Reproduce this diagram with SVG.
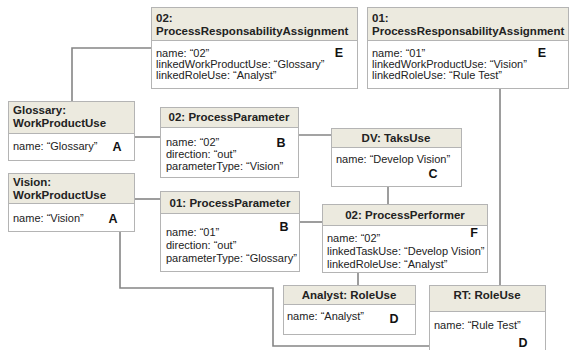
<svg xmlns="http://www.w3.org/2000/svg" width="570" height="350" viewBox="0 0 570 350">
<style>
.box{fill:#ffffff;stroke:#b4b4b4;stroke-width:1}
.hdr{fill:#eceadf;stroke:#b4b4b4;stroke-width:1}
.t{font-family:"Liberation Sans",Arial,sans-serif;font-size:11px;fill:#222}
.h{font-family:"Liberation Sans",Arial,sans-serif;font-size:11.5px;font-weight:bold;fill:#222}
.hc{text-anchor:middle}
.l{font-family:"Liberation Sans",Arial,sans-serif;font-size:12.5px;font-weight:bold;fill:#111;text-anchor:middle}
.c{fill:none;stroke:#858585;stroke-width:1.6}
</style>
<rect width="570" height="350" fill="#ffffff"/>
<g id="connectors">
<polyline class="c" points="72,101 72,48 151,48"/>
<line class="c" x1="134" y1="137" x2="160" y2="137"/>
<line class="c" x1="298" y1="135" x2="331" y2="135"/>
<line class="c" x1="500" y1="88" x2="500" y2="285"/>
<line class="c" x1="134" y1="199" x2="160" y2="199"/>
<polyline class="c" points="120,231 120,288 273,288 273,346 429,346"/>
<line class="c" x1="388" y1="186" x2="388" y2="204"/>
<line class="c" x1="299" y1="222" x2="322" y2="222"/>
<line class="c" x1="358" y1="272" x2="358" y2="285"/>
</g>
<g id="e1">
<rect class="box" x="151.5" y="7.5" width="206" height="81"/>
<rect class="hdr" x="151.5" y="7.5" width="206" height="33"/>
<text class="h" x="156" y="22">02:</text>
<text class="h" x="156" y="35">ProcessResponsabilityAssignment</text>
<text class="t" x="156" y="57">name: “02”</text>
<text class="t" x="156" y="68">linkedWorkProductUse: “Glossary”</text>
<text class="t" x="156" y="79">linkedRoleUse: “Analyst”</text>
<text class="l" x="339" y="57">E</text>
</g>
<g id="e2">
<rect class="box" x="367.5" y="7.5" width="201" height="81"/>
<rect class="hdr" x="367.5" y="7.5" width="201" height="33"/>
<text class="h" x="372" y="22">01:</text>
<text class="h" x="372" y="35">ProcessResponsabilityAssignment</text>
<text class="t" x="372" y="57">name: “01”</text>
<text class="t" x="372" y="68">linkedWorkProductUse: “Vision”</text>
<text class="t" x="372" y="79">linkedRoleUse: “Rule Test”</text>
<text class="l" x="542" y="57">E</text>
</g>
<g id="glossary">
<rect class="box" x="8.5" y="101.5" width="126" height="59"/>
<rect class="hdr" x="8.5" y="101.5" width="126" height="32"/>
<text class="h" x="13" y="114">Glossary:</text>
<text class="h" x="13" y="127">WorkProductUse</text>
<text class="t" x="13" y="150">name: “Glossary”</text>
<text class="l" x="117" y="151">A</text>
</g>
<g id="pp02">
<rect class="box" x="160.5" y="107.5" width="138" height="70"/>
<rect class="hdr" x="160.5" y="107.5" width="138" height="20"/>
<text class="h hc" x="229" y="121">02: ProcessParameter</text>
<text class="t" x="166" y="146">name: “02”</text>
<text class="t" x="166" y="158">direction: “out”</text>
<text class="t" x="166" y="170">parameterType: “Vision”</text>
<text class="l" x="281" y="147">B</text>
</g>
<g id="dv">
<rect class="box" x="331.5" y="128.5" width="130" height="58"/>
<rect class="hdr" x="331.5" y="128.5" width="130" height="19"/>
<text class="h hc" x="396" y="142">DV: TaksUse</text>
<text class="t" x="336" y="163">name: “Develop Vision”</text>
<text class="l" x="433" y="178">C</text>
</g>
<g id="vision">
<rect class="box" x="8.5" y="173.5" width="126" height="58"/>
<rect class="hdr" x="8.5" y="173.5" width="126" height="30"/>
<text class="h" x="13" y="186">Vision:</text>
<text class="h" x="13" y="199">WorkProductUse</text>
<text class="t" x="13" y="222">name: “Vision”</text>
<text class="l" x="113" y="223">A</text>
</g>
<g id="pp01">
<rect class="box" x="160.5" y="191.5" width="139" height="80"/>
<rect class="hdr" x="160.5" y="191.5" width="139" height="22"/>
<text class="h hc" x="230" y="207">01: ProcessParameter</text>
<text class="t" x="166" y="236">name: “01”</text>
<text class="t" x="166" y="249">direction: “out”</text>
<text class="t" x="166" y="262">parameterType: “Glossary”</text>
<text class="l" x="284" y="231">B</text>
</g>
<g id="performer">
<rect class="box" x="322.5" y="204.5" width="165" height="68"/>
<rect class="hdr" x="322.5" y="204.5" width="165" height="21"/>
<text class="h hc" x="405" y="219">02: ProcessPerformer</text>
<text class="t" x="327" y="242">name: “02”</text>
<text class="t" x="327" y="255">linkedTaskUse: “Develop Vision”</text>
<text class="t" x="327" y="268">linkedRoleUse: “Analyst”</text>
<text class="l" x="474" y="237">F</text>
</g>
<g id="analyst">
<rect class="box" x="283.5" y="285.5" width="132" height="49"/>
<rect class="hdr" x="283.5" y="285.5" width="132" height="19"/>
<text class="h hc" x="349" y="299">Analyst: RoleUse</text>
<text class="t" x="287" y="320">name: “Analyst”</text>
<text class="l" x="394" y="323">D</text>
</g>
<g id="rt">
<rect class="box" x="429.5" y="285.5" width="116" height="70"/>
<rect class="hdr" x="429.5" y="285.5" width="116" height="26"/>
<text class="h hc" x="487" y="299">RT: RoleUse</text>
<text class="t" x="434" y="329">name: “Rule Test”</text>
<text class="l" x="523" y="347">D</text>
</g>
</svg>
